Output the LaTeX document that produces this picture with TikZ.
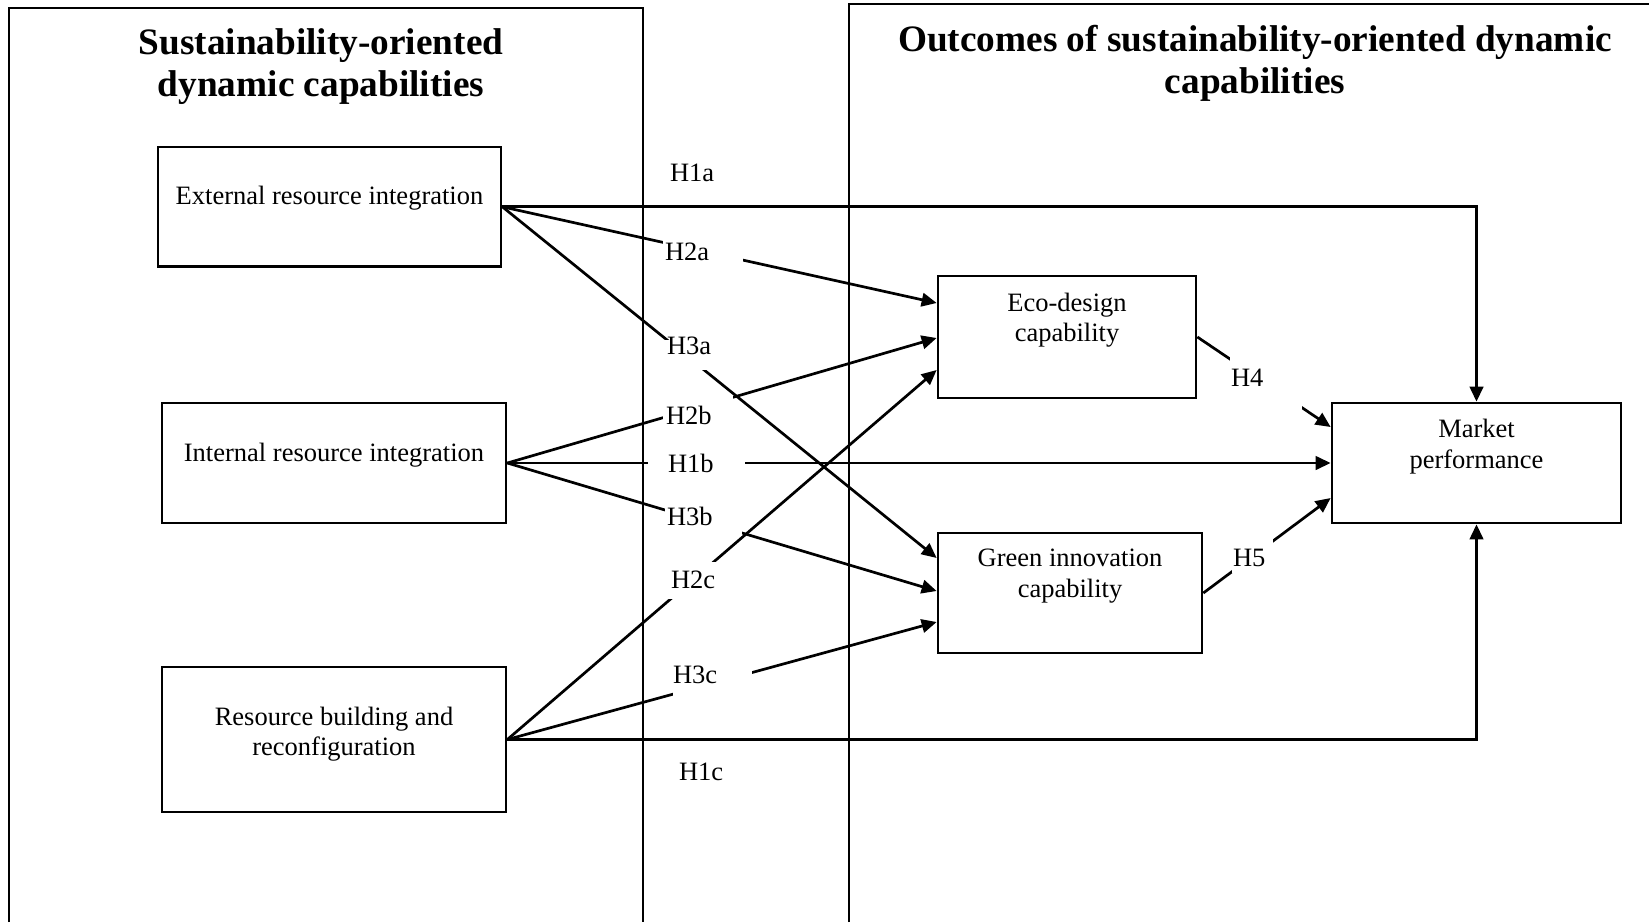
\documentclass[tikz,border=0pt]{standalone}
\usepackage{fontspec}
\setmainfont{Liberation Serif}
\usetikzlibrary{arrows.meta,calc}
\begin{document}
\begin{tikzpicture}[x=1pt,y=-1pt,
  frame/.style={line width=2.6pt},
  box/.style={draw, line width=2.7pt, rectangle, inner sep=0pt},
  boxtext/.style={font=\fontsize{26.5}{30.5}\selectfont, align=center, inner sep=0pt, outer sep=0pt, anchor=north},
  title/.style={font=\fontsize{37.3}{42}\selectfont\bfseries, align=center, inner sep=0pt, outer sep=0pt, anchor=north},
  conn/.style={line width=2.7pt},
  arr/.style={conn, -{Triangle[length=15pt,width=13.5pt]}},
  hyp/.style={font=\fontsize{26.5}{30.5}\selectfont, inner sep=0pt, outer sep=0pt, anchor=base west},
  gap/.style n args={4}{hyp, fill=white, align=left, inner ysep=0pt, inner xsep=#1pt, text width=#2pt, text height=#3pt, text depth=#4pt}
]
\useasboundingbox (0,0) rectangle (1649,922);

% frames
\draw[frame] (9,922) -- (9,8) -- (643,8) -- (643,922);
\draw[frame] (849,922) -- (849,4) -- (1649,4);

% titles
\node[title] (tleft) at (321,24.8) {\strut Sustainability-oriented\\dynamic capabilities};
\node[title] (tright) at (1255,21.8) {\strut Outcomes of sustainability-oriented dynamic\\capabilities};

% boxes
\node[box, minimum width=343pt, minimum height=119.7pt] (ext) at (329.5,206.8) {};
\node[box, minimum width=344pt, minimum height=120pt] (int) at (334,463) {};
\node[box, minimum width=344pt, minimum height=145pt] (res) at (334,739.5) {};
\node[box, minimum width=258pt, minimum height=122pt] (eco) at (1067,337) {};
\node[box, minimum width=264pt, minimum height=120pt] (green) at (1070,593) {};
\node[box, minimum width=289pt, minimum height=120pt] (mkt) at (1476.5,463) {};

% box texts
\node[boxtext] (extT) at (329.5,183.5) {\strut External resource integration};
\node[boxtext] (intT) at (334,439.65) {\strut Internal resource integration};
\node[boxtext] (resT) at (334,703.65) {\strut Resource building and\\reconfiguration};
\node[boxtext] (ecoT) at (1067,290) {\strut Eco-design\\capability};
\node[boxtext] (greenT) at (1070,545.5) {\strut Green innovation\\capability};
\node[boxtext] (mktT) at (1476.5,416.5) {\strut Market\\performance};

% connectors
\draw[arr] (ext.east) -| (mkt.north);
\draw[arr] (int.east) -- (mkt.west);
\draw[arr] (res.east) -| (mkt.south);
\draw[arr] (ext.east) -- ($(eco.west)+(0,-34)$);
\draw[arr] (ext.east) -- ($(green.west)+(0,-35)$);
\draw[arr] (int.east) -- ($(eco.west)+(0,1)$);
\draw[arr] (int.east) -- ($(green.west)+(0,-2)$);
\draw[arr] (res.east) -- ($(eco.west)+(0,33)$);
\draw[arr] (res.east) -- ($(green.west)+(0,29)$);
\draw[arr] (eco.east) -- ($(mkt.west)+(0,-36)$);
\draw[arr] (green.east) -- ($(mkt.west)+(0,35)$);

% hypothesis labels
\node[hyp] (H1a) at (670,181) {H1a};
\node[hyp] (H1c) at (679,780) {H1c};
\node[gap={2}{76}{24}{6}] (H2a) at (663,260) {H2a};
\node[gap={7}{51}{14}{16}] (H3a) at (660,354) {H3a};
\node[gap={3}{64}{29}{6}] (H2b) at (663,424) {H2b};
\node[gap={20}{57}{27}{8}] (H1b) at (648,472) {H1b};
\node[gap={2}{73}{27}{11}] (H3b) at (665,525) {H3b};
\node[gap={9}{44}{26}{11}] (H2c) at (662,588) {H2c};
\node[gap={0}{79}{23}{13}] (H3c) at (673,683) {H3c};
\node[gap={1}{70}{31}{26}] (H4) at (1230,386) {H4};
\node[gap={1}{39}{31}{7}] (H5) at (1232,566) {H5};
\end{tikzpicture}
\end{document}
